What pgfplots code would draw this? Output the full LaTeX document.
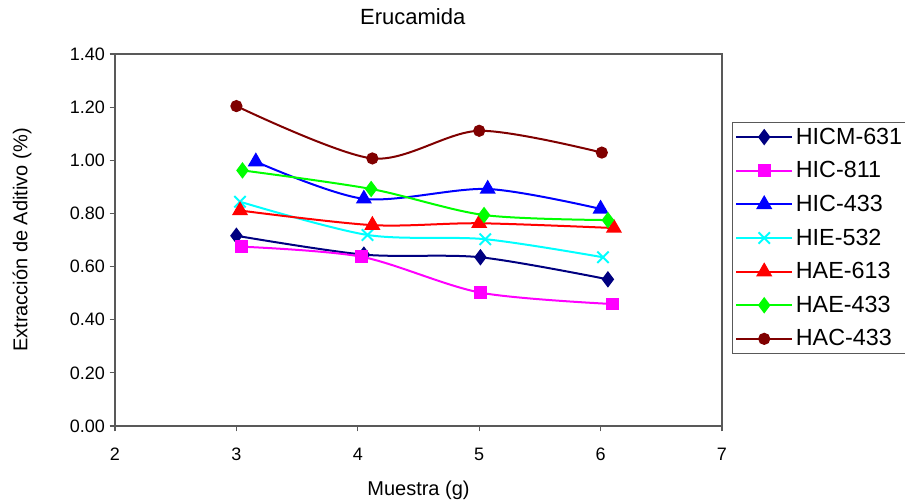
\documentclass[border=0pt]{standalone}
\usepackage{pgfplots}
\pgfplotsset{compat=1.18}
\usepackage{fontspec}
\setmainfont{Liberation Sans}
\definecolor{navyc}{RGB}{0,0,128}
\definecolor{magc}{RGB}{255,0,255}
\definecolor{bluec}{RGB}{0,0,255}
\definecolor{cyanc}{RGB}{0,255,255}
\definecolor{redc}{RGB}{255,0,0}
\definecolor{greenc}{RGB}{0,255,0}
\definecolor{dredc}{RGB}{128,0,0}
\begin{document}
\begin{tikzpicture}
\useasboundingbox (-86.25pt,-56.25pt) rectangle (592.5pt,319.5pt);
\begin{axis}[
  at={(0,0)}, anchor=south west,
  scale only axis, width=455.25pt, height=279pt,
  xmin=2, xmax=7, ymin=0, ymax=1.4,
  xtick={2,3,4,5,6,7},
  ytick={0,0.2,0.4,0.6,0.8,1.0,1.2,1.4},
  yticklabel style={/pgf/number format/.cd, fixed, fixed zerofill, precision=2},
  xticklabel style={yshift=-9pt},
  /pgf/number format/assume math mode=true,
  tick align=outside, major tick length=4pt,
  xtick pos=bottom, ytick pos=left,
  axis line style={gray!70!black, line width=0.8pt},
  tick style={gray!70!black, line width=0.8pt},
  tick label style={font=\fontsize{13.5}{15}\selectfont},
  title={Erucamida},
  title style={at={(axis description cs:0.4905,1.078)}, anchor=center, font=\fontsize{16.5}{18}\selectfont},
  xlabel={Muestra (g)},
  xlabel style={at={(axis description cs:0.5,-0.172)}, anchor=center, font=\fontsize{15}{17}\selectfont},
  ylabel={Extracción de Aditivo (\%)},
  ylabel style={at={(axis description cs:-0.1532,0.5)}, anchor=center, font=\fontsize{15}{17}\selectfont},
  legend style={at={(axis description cs:1.0165,0.817)}, anchor=north west,
    draw=gray!70!black, line width=0.8pt, font=\fontsize{17.5}{19}\selectfont,
    row sep=7.5pt, inner sep=2pt},
  legend cell align=left,
  legend image code/.code={\draw[mark repeat=2,mark phase=2] plot coordinates {(0pt,0pt)(21pt,0pt)(42pt,0pt)};},
  every axis plot/.append style={line width=1.5pt, smooth, tension=0.5, mark options={solid}},
]
\addplot[color=navyc, mark=diamond*, mark size=5pt] coordinates {(3.0,0.716)(4.05,0.645)(5.01,0.635)(6.06,0.552)};
\addlegendentry{HICM-631}
\addplot[color=magc, mark=square*, mark size=4pt] coordinates {(3.04,0.675)(4.03,0.637)(5.01,0.502)(6.10,0.459)};
\addlegendentry{HIC-811}
\addplot[color=bluec, mark=triangle*, mark size=5.5pt] coordinates {(3.16,0.995)(4.05,0.855)(5.07,0.892)(6.0,0.817)};
\addlegendentry{HIC-433}
\addplot[color=cyanc, mark=x, mark size=6pt, mark options={line width=1.5pt}] coordinates {(3.03,0.844)(4.08,0.719)(5.05,0.703)(6.02,0.635)};
\addlegendentry{HIE-532}
\addplot[color=redc, mark=triangle*, mark size=5.5pt] coordinates {(3.03,0.811)(4.12,0.756)(5.0,0.763)(6.11,0.745)};
\addlegendentry{HAE-613}
\addplot[color=greenc, mark=diamond*, mark size=5pt] coordinates {(3.05,0.962)(4.11,0.892)(5.04,0.794)(6.06,0.775)};
\addlegendentry{HAE-433}
\addplot[color=dredc, mark=*, mark size=3.8pt] coordinates {(3.0,1.204)(4.12,1.007)(5.0,1.111)(6.01,1.029)};
\addlegendentry{HAC-433}
\end{axis}
\end{tikzpicture}
\end{document}
